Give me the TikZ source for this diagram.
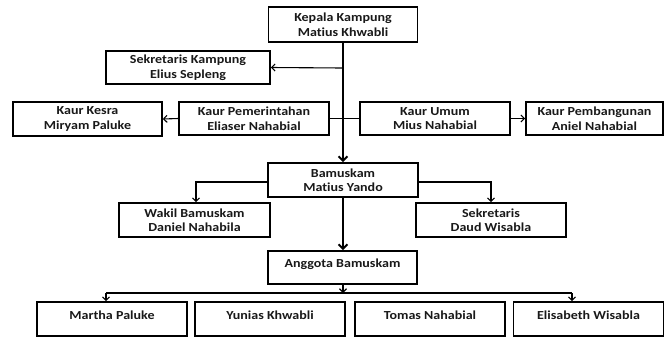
\documentclass[tikz,border=0pt]{standalone}
\usepackage{fontspec}
\setmainfont{Carlito}[FakeStretch=1.14,Ligatures={NoCommon,NoRequired,NoContextual}]
\usetikzlibrary{arrows.meta}
\begin{document}
\begin{tikzpicture}[x=1bp,y=-1bp,
  box/.style={draw=black, line width=1.6bp, rectangle, inner sep=0pt, align=center,
    font=\bfseries\fontsize{12.3bp}{14.5bp}\selectfont, text=black!90},
  lowbox/.style={box, text height=9bp, text depth=9bp},
  thin/.style={line width=1.1bp, -{Straight Barb[length=3.5bp,width=7bp]}},
  thick/.style={line width=2bp, -{Straight Barb[length=4.5bp,width=9bp]}},
  plain/.style={line width=1.1bp}]
\useasboundingbox (0,0) rectangle (665,337);
\fill[white] (0,0) rectangle (665,337);
% nodes
\node[box, minimum width=149bp, minimum height=35bp] (kepala) at (343,24.5) {Kepala Kampung\\Matius Khwabli};
\node[box, minimum width=164bp, minimum height=33bp] (sekk) at (188,67.5) {Sekretaris Kampung\\Elius Sepleng};
\node[box, minimum width=149bp, minimum height=34bp] (kesra) at (87.5,119) {Kaur Kesra\\Miryam Paluke};
\node[box, minimum width=150bp, minimum height=33bp] (pem) at (254,118.5) {Kaur Pemerintahan\\Eliaser Nahabial};
\node[box, minimum width=150bp, minimum height=33bp] (umum) at (435,118.5) {Kaur Umum\\Mius Nahabial};
\node[box, minimum width=137bp, minimum height=33bp] (bang) at (594.5,118.5) {Kaur Pembangunan\\Aniel Nahabial};
\node[box, minimum width=150bp, minimum height=34bp] (bamus) at (343,180) {Bamuskam\\Matius Yando};
\node[box, minimum width=151bp, minimum height=34bp] (wakil) at (194.5,220) {Wakil Bamuskam\\Daniel Nahabila};
\node[box, minimum width=150bp, minimum height=34bp] (sekr) at (491,220) {Sekretaris\\Daud Wisabla};
\node[lowbox, minimum width=149bp, minimum height=33bp] (anggota) at (342.5,267.5) {Anggota Bamuskam};
\node[lowbox, minimum width=150bp, minimum height=34bp] (martha) at (112,319) {Martha Paluke};
\node[lowbox, minimum width=150bp, minimum height=34bp] (yunias) at (270,319) {Yunias Khwabli};
\node[lowbox, minimum width=150bp, minimum height=34bp] (tomas) at (430,319) {Tomas Nahabial};
\node[lowbox, minimum width=150bp, minimum height=34bp] (elis) at (588.5,319) {Elisabeth Wisabla};
% coordinates
\coordinate (tS) at (343,68);
\coordinate (wk) at (196,182);
\coordinate (sk) at (491,182);
\coordinate (hl) at (106,293);
\coordinate (hr) at (572,293);
\coordinate (hc) at (343,293);
% connectors
\draw[thick] (kepala.south) -- (bamus.north);
\draw[thin] (tS) -- (sekk.east);
\draw[line width=1.8bp] (pem.east) -- (umum.west);
\draw[thin] (pem.west) -- (kesra.east);
\draw[thin] (umum.east) -- (bang.west);
\draw[thin] (bamus.west |- wk) -- (wk) -- (wakil.north -| wk);
\draw[thin] (bamus.east |- sk) -- (sk) -- (sekr.north -| sk);
\draw[thick] (bamus.south) -- (anggota.north -| bamus.south);
\draw[thin] (anggota.south -| hc) -- (hc);
\draw[plain] (hl) -- (hr);
\draw[thin] (hl) -- (hl |- martha.north);
\draw[thin] (hr) -- (hr |- elis.north);
\end{tikzpicture}
\end{document}
